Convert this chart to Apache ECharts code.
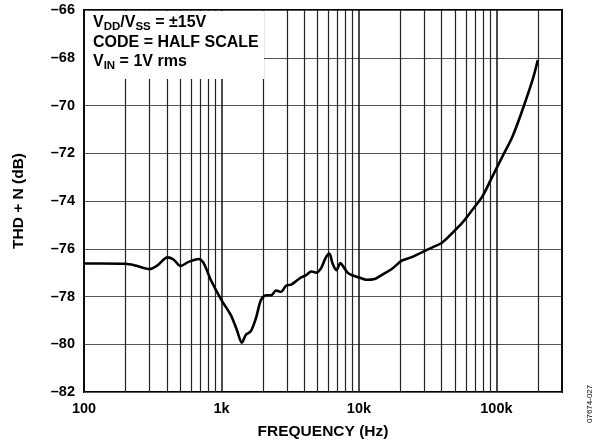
<!DOCTYPE html>
<html>
<head>
<meta charset="utf-8">
<script src="https://cdn.jsdelivr.net/npm/echarts@6/dist/echarts.min.js"></script>
<style>
  html, body { margin: 0; padding: 0; background: #fff; }
  #chart { width: 600px; height: 446px; }
</style>
</head>
<body>
<div id="chart"></div>
<script>
// frequency (Hz) and THD + N (dB)
const freqs = [100, 131, 200, 236, 300, 342, 405, 448, 504, 577, 682, 742, 835,
    1000, 1170, 1294, 1407, 1506, 1636, 1783, 1938, 2108, 2293, 2495, 2716, 2951,
    3213, 3498, 3802, 4138, 4500, 4898, 5323, 5700, 6095, 6412, 6855, 7335, 7713,
    8254, 8830, 10000, 11350, 12800, 14630, 17300, 20500, 24270, 28700, 33960,
    40200, 47600, 56300, 66700, 78900, 93400, 110500, 130700, 154600, 183200, 200000];
const thdn = [-76.62, -76.62, -76.63, -76.7, -76.85, -76.7, -76.36, -76.45, -76.72, -76.55, -76.43, -76.6, -77.3,
    -78.15, -78.78, -79.4, -79.93, -79.6, -79.45, -78.9, -78.15, -77.95, -77.95, -77.75, -77.8, -77.55,
    -77.5, -77.35, -77.2, -77.1, -76.95, -77.0, -76.8, -76.4, -76.2, -76.6, -76.9, -76.6, -76.75,
    -77.0, -77.1, -77.2, -77.3, -77.28, -77.1, -76.85, -76.5, -76.35, -76.15, -75.95,
    -75.75, -75.35, -74.92, -74.38, -73.82, -72.98, -72.14, -71.31, -70.19, -68.93, -68.1];

// vertical grid lines between the decades
const minorFreqs = [200, 300, 400, 500, 600, 700, 800, 900,
    2000, 3000, 4000, 5000, 6000, 7000, 8000, 9000,
    20000, 30000, 40000, 50000, 60000, 70000, 80000, 90000, 200000];

const chart = echarts.init(document.getElementById('chart'));
const font = 'Liberation Sans, Arial, sans-serif';

function fmtFreq(v) {
    const lg = Math.log10(v);
    if (Math.abs(lg - Math.round(lg)) > 1e-6) return '';
    return v >= 1000 ? (v / 1000) + 'k' : String(v);
}

const option = {
    animation: false,
    grid: {
        left: 84, right: 38, top: 10, bottom: 54,
        outerBoundsMode: 'none',
        containLabel: false,
        show: true, borderColor: '#000', borderWidth: 2, backgroundColor: '#fff'
    },
    xAxis: {
        type: 'log',
        logBase: 10,
        min: 100,
        max: 300000,
        name: 'FREQUENCY (Hz)',
        nameLocation: 'middle',
        nameGap: 32,
        nameTextStyle: { fontFamily: font, fontWeight: 'bold', fontSize: 15.5, color: '#000' },
        axisLine: { show: false },
        axisTick: { show: false },
        axisLabel: {
            formatter: fmtFreq,
            margin: 9,
            fontFamily: font, fontWeight: 'bold', fontSize: 14.5, color: '#000'
        },
        splitLine: { show: true, lineStyle: { color: '#111', width: 1.5 } }
    },
    yAxis: {
        type: 'value',
        min: -82,
        max: -66,
        interval: 2,
        name: 'THD + N (dB)',
        nameLocation: 'middle',
        nameGap: 57,
        nameTextStyle: { fontFamily: font, fontWeight: 'bold', fontSize: 15.5, color: '#000' },
        axisLine: { show: false },
        axisTick: { show: false },
        axisLabel: {
            formatter: v => String(v).replace('-', '\u2013'),
            margin: 9,
            fontFamily: font, fontWeight: 'bold', fontSize: 14.5, color: '#000'
        },
        splitLine: { show: true, lineStyle: { color: '#555', width: 1.2 } }
    },
    series: [{
        type: 'line',
        data: freqs.map((f, i) => [f, thdn[i]]),
        showSymbol: false,
        smooth: 0.3,
        lineStyle: { color: '#000', width: 2.6 },
        z: 5,
        markLine: {
            silent: true,
            symbol: 'none',
            label: { show: false },
            lineStyle: { color: '#222', width: 1.2, type: 'solid' },
            data: minorFreqs.map(f => ({ xAxis: f })),
            z: 1
        }
    }],
    graphic: [
        {
            type: 'rect',
            shape: { x: 85, y: 11, width: 179, height: 68 },
            style: { fill: '#fff' },
            z: 10
        },
        {
            type: 'text',
            left: 93,
            top: 13,
            z: 11,
            style: {
                text: 'V{sub|DD}/V{sub|SS} = \u00b115V\nCODE = HALF SCALE\nV{sub|IN} = 1V rms',
                font: 'bold 16px ' + font,
                fill: '#000',
                lineHeight: 19.5,
                rich: {
                    sub: { fontFamily: font, fontWeight: 'bold', fontSize: 11.5, fill: '#000', padding: [8, 0, 0, 0], lineHeight: 19.5 }
                }
            }
        },
        {
            type: 'text',
            x: 590,
            y: 423,
            rotation: Math.PI / 2,
            z: 11,
            style: {
                text: '07674-027',
                font: '8px ' + font,
                fill: '#000',
                align: 'left',
                verticalAlign: 'middle'
            }
        }
    ]
};

chart.setOption(option);
</script>
</body>
</html>
